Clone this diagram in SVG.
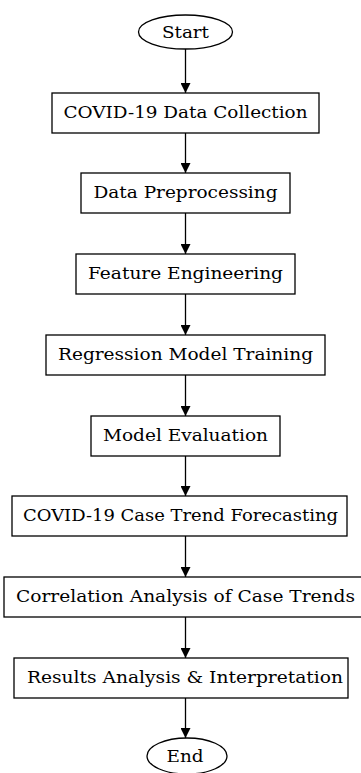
<svg xmlns="http://www.w3.org/2000/svg" width="361" height="773" viewBox="0 0 361 773">
<defs>
<marker id="ah" markerWidth="10" markerHeight="10" refX="10" refY="5" orient="auto" markerUnits="userSpaceOnUse">
<path d="M0,0 L10,5 L0,10 Z" fill="#000"/>
</marker>
<style>
.n{fill:#fff;stroke:#000;stroke-width:1.3}
.t{font-family:"DejaVu Serif","Liberation Serif",serif;font-size:16px;text-anchor:middle;fill:#000}
.e{stroke:#000;stroke-width:1.3;fill:none;marker-end:url(#ah)}
</style>
</defs>
<rect width="361" height="773" fill="#fff"/>
<g id="edges">
<line class="e" x1="185.5" y1="49" x2="185.5" y2="93"/>
<line class="e" x1="185.5" y1="133" x2="185.5" y2="173"/>
<line class="e" x1="185.5" y1="213" x2="185.5" y2="254"/>
<line class="e" x1="185.5" y1="294" x2="185.5" y2="335"/>
<line class="e" x1="185.5" y1="375" x2="185.5" y2="416"/>
<line class="e" x1="185.5" y1="456" x2="185.5" y2="496"/>
<line class="e" x1="185.5" y1="536" x2="185.5" y2="577"/>
<line class="e" x1="185.5" y1="617" x2="185.5" y2="658"/>
<line class="e" x1="185.5" y1="698" x2="185.5" y2="738"/>
</g>
<g id="start"><ellipse class="n" cx="185.5" cy="32" rx="47" ry="17"/><text class="t" x="185.5" y="37.5" textLength="47" lengthAdjust="spacingAndGlyphs">Start</text></g>
<g id="collect"><rect class="n" x="52" y="93" width="267" height="40"/><text class="t" x="185.5" y="118" textLength="244" lengthAdjust="spacingAndGlyphs">COVID-19 Data Collection</text></g>
<g id="preprocess"><rect class="n" x="81" y="173" width="209" height="40"/><text class="t" x="185.5" y="198" textLength="184" lengthAdjust="spacingAndGlyphs">Data Preprocessing</text></g>
<g id="feature"><rect class="n" x="76" y="254" width="219" height="40"/><text class="t" x="185.5" y="279" textLength="195" lengthAdjust="spacingAndGlyphs">Feature Engineering</text></g>
<g id="training"><rect class="n" x="46" y="335" width="279" height="40"/><text class="t" x="185.5" y="360" textLength="255" lengthAdjust="spacingAndGlyphs">Regression Model Training</text></g>
<g id="evaluation"><rect class="n" x="91" y="416" width="189" height="40"/><text class="t" x="185.5" y="441" textLength="165" lengthAdjust="spacingAndGlyphs">Model Evaluation</text></g>
<g id="forecast"><rect class="n" x="12" y="496" width="335" height="40"/><text class="t" x="180.5" y="521" textLength="315" lengthAdjust="spacingAndGlyphs">COVID-19 Case Trend Forecasting</text></g>
<g id="correlation"><rect class="n" x="4" y="577" width="363" height="40"/><text class="t" x="185.5" y="602" textLength="339" lengthAdjust="spacingAndGlyphs">Correlation Analysis of Case Trends</text></g>
<g id="results"><rect class="n" x="14" y="658" width="334" height="40"/><text class="t" x="185" y="683" textLength="316" lengthAdjust="spacingAndGlyphs">Results Analysis &amp; Interpretation</text></g>
<g id="end"><ellipse class="n" cx="187" cy="756" rx="40" ry="18"/><text class="t" x="185" y="761.5" textLength="37" lengthAdjust="spacingAndGlyphs">End</text></g>
</svg>
